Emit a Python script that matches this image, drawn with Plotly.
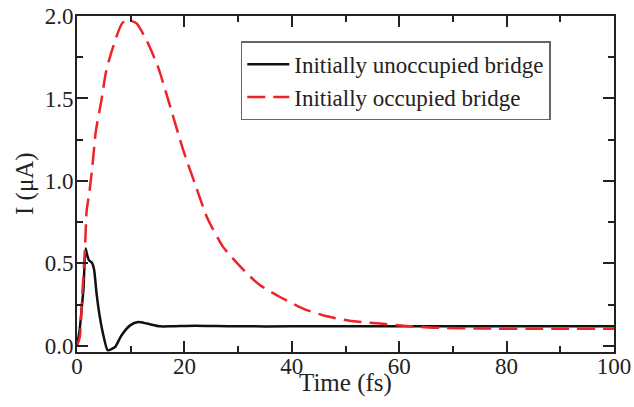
import plotly.graph_objects as go

# Initially unoccupied bridge (black solid)
t_unocc = [0, 0.5, 1.0, 1.2, 1.6, 1.9, 2.2, 2.55, 2.85, 3.2, 3.6, 4.15, 4.8, 5.7, 6.4, 7.1,
           8.3, 9.9, 11.4, 13.0, 15.5, 18, 22, 26, 30, 40, 50, 60, 70, 80, 90, 100]
i_unocc = [0, 0.1, 0.27, 0.34, 0.59, 0.55, 0.52, 0.51, 0.50, 0.46, 0.33, 0.195, 0.08, -0.027, -0.02, -0.007,
           0.064, 0.124, 0.144, 0.135, 0.118, 0.119, 0.122, 0.12, 0.118, 0.118, 0.118, 0.118, 0.118, 0.118, 0.118, 0.118]

# Initially occupied bridge (red dashed)
t_occ = [0, 0.5, 1.0, 1.5, 1.8, 2.3, 2.9, 3.5, 4.5, 5.4, 6.6, 8.5, 10.1, 11.1, 13.0, 15.1, 17.0,
         19.8, 22.0, 24.2, 27.2, 31.6, 34.1, 37.8, 42.1, 46.5, 51.5, 56.4, 60.8, 66.4, 75, 85, 100]
i_occ = [0, 0.05, 0.32, 0.6, 0.82, 0.93, 1.10, 1.30, 1.48, 1.66, 1.80, 1.96, 1.97, 1.955, 1.85, 1.69, 1.49,
         1.185, 0.98, 0.78, 0.60, 0.44, 0.367, 0.296, 0.225, 0.179, 0.149, 0.135, 0.122, 0.110, 0.105, 0.103, 0.103]

x_ticks = [0, 20, 40, 60, 80, 100]
y_ticks = [0.0, 0.5, 1.0, 1.5, 2.0]
y_ticklabels = ["0.0", "0.5", "1.0", "1.5", "2.0"]

font_family = "Liberation Serif, Times New Roman, serif"
ink = "#222222"

fig = go.Figure()
fig.add_trace(go.Scatter(
    x=t_unocc, y=i_unocc, mode="lines", name="Initially unoccupied bridge",
    line=dict(color="#111111", width=2.5, shape="spline", smoothing=0.6),
))
fig.add_trace(go.Scatter(
    x=t_occ, y=i_occ, mode="lines", name="Initially occupied bridge",
    line=dict(color="#ee2228", width=2.5, dash="18px,8px", shape="spline", smoothing=0.6),
))

axis_common = dict(
    showline=True, linecolor=ink, linewidth=2, mirror="allticks",
    ticks="inside", ticklen=11, tickwidth=1.5, tickcolor=ink,
    showgrid=False, zeroline=False, automargin=False,
    ticklabeloverflow="allow",
    tickfont=dict(family=font_family, size=23, color=ink),
)

fig.update_layout(
    width=634, height=407,
    margin=dict(l=77, r=20, t=16, b=55),
    plot_bgcolor="white", paper_bgcolor="white",
    showlegend=True,
    legend=dict(
        x=0.305, y=0.925, xanchor="left", yanchor="top",
        bordercolor="#666666", borderwidth=1.5, bgcolor="white",
        font=dict(family=font_family, size=23, color=ink),
        tracegroupgap=0, itemwidth=42,
    ),
    xaxis=dict(
        range=[0, 100], tickvals=x_ticks, ticklabelstandoff=-8,
        minor=dict(ticks="inside", ticklen=6, tickwidth=1.5, tickcolor=ink, dtick=10, tick0=0),
        **axis_common,
    ),
    yaxis=dict(
        range=[-0.0375, 2.0], tickvals=y_ticks, ticktext=y_ticklabels, ticklabelstandoff=-3,
        minor=dict(ticks="inside", ticklen=6, tickwidth=1.5, tickcolor=ink, dtick=0.25, tick0=0),
        **axis_common,
    ),
    annotations=[
        dict(text="Time (fs)", xref="paper", yref="paper", x=0.5, y=-0.092,
             xanchor="center", yanchor="middle", showarrow=False,
             font=dict(family=font_family, size=25, color=ink)),
        dict(text="I (μA)", xref="paper", yref="paper", x=-0.0968, y=0.5,
             xanchor="center", yanchor="middle", showarrow=False, textangle=-90,
             font=dict(family=font_family, size=25, color=ink)),
    ],
)

# remove the default 8px page margin so the figure fills the window exactly
fig.write_html("out.html", config={"displayModeBar": False},
               post_script="document.body.style.margin='0';")
